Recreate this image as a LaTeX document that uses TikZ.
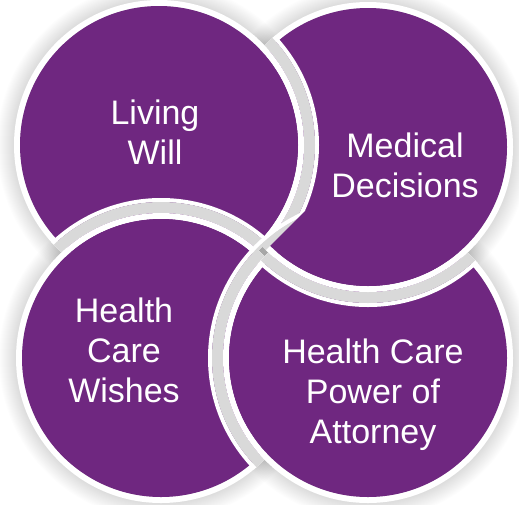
\documentclass[tikz,border=0pt]{standalone}
\usepackage{fontspec}
\setmainfont{Liberation Sans}
\usetikzlibrary{positioning}
\definecolor{plum}{RGB}{111,39,128}
\definecolor{bandgrey}{RGB}{217,217,217}

% one purple disc with its white rim; the grey band only shows over the other discs
\newcommand{\plumdisc}[2]{%
  \begin{scope}
    \clip \foreach \o in {#2} {(\o) circle[radius=145pt]};
    \fill[white, even odd rule] (#1) circle[radius=160pt] (#1) circle[radius=156pt];
    \fill[bandgrey, even odd rule] (#1) circle[radius=156pt] (#1) circle[radius=145pt];
  \end{scope}
  \fill[white, even odd rule] (#1) circle[radius=145pt] (#1) circle[radius=139pt];
  \fill[plum] (#1) circle[radius=139pt];
}

\begin{document}
\begin{tikzpicture}[x=1pt,y=-1pt,
  circtext/.style={text=white, align=center, font=\fontsize{34}{40}\selectfont}]
  \useasboundingbox (0,0) rectangle (519,504);
  \coordinate (cA) at (159,145); % Living Will
  \coordinate (cB) at (368,147); % Medical Decisions
  \coordinate (cC) at (161,358); % Health Care Wishes
  \coordinate (cD) at (368,358); % Health Care Power of Attorney
  % soft shadow round the outside
  \foreach \c in {cA,cB,cC,cD}
    \foreach \r in {146,...,162}
      \fill[black, opacity=0.009] (\c) circle[radius=\r pt];
  % discs, each over the one before
  \plumdisc{cB}{cA,cC,cD}
  \plumdisc{cA}{cB,cC,cD}
  \plumdisc{cC}{cA,cB,cD}
  \plumdisc{cD}{cA,cB,cC}
  % Medical Decisions lies over the last disc again
  \begin{scope}
    \clip (0,516) -- (516,0) -- (600,0) -- (600,600) -- (0,600) -- cycle;
    \clip (cD) circle[radius=164pt];
    \plumdisc{cB}{cD}
  \end{scope}
  % Texts
  \node[circtext] (livingwill) at (155,132) {Living\\Will};
  \node[circtext] (medical) at (405,165) {Medical\\Decisions};
  \node[circtext] (wishes) at (124,350) {Health\\Care\\Wishes};
  \node[circtext] (attorney) at (373,395) {Health Care\\Power of\\Attorney};
\end{tikzpicture}
\end{document}
